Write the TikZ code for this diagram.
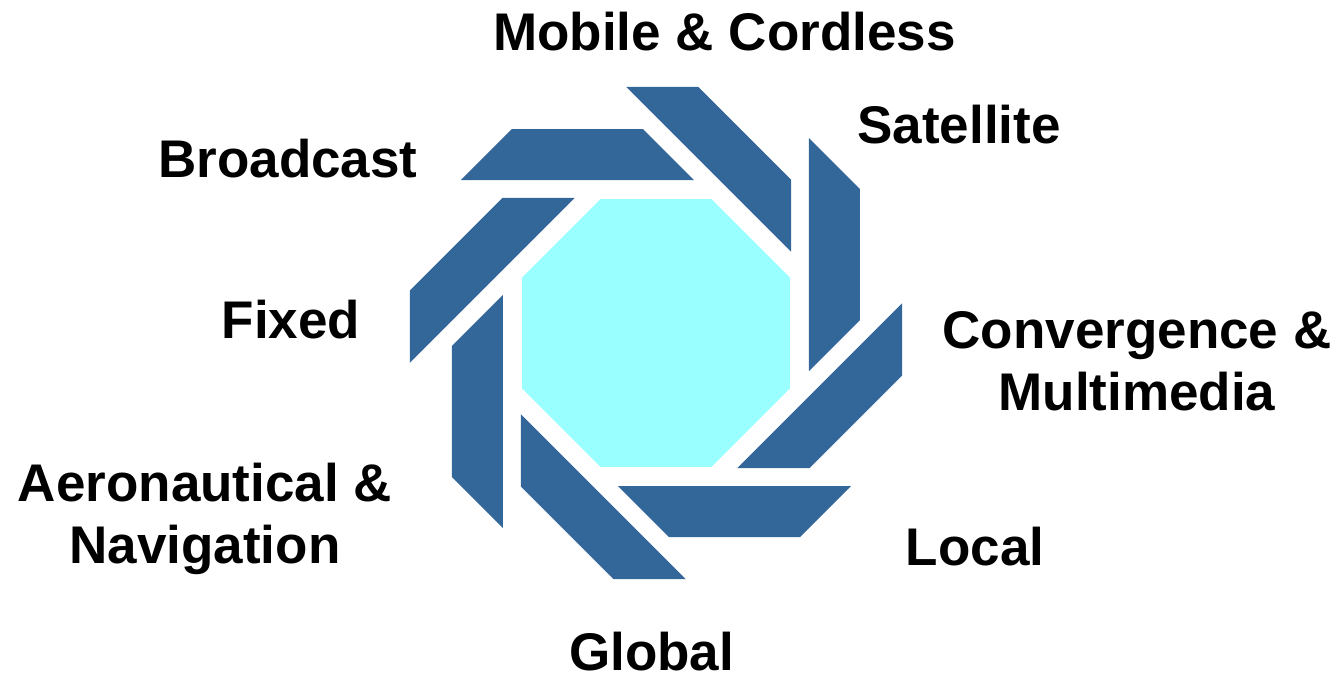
\documentclass[tikz,border=0pt]{standalone}
\usepackage{fontspec}
\setmainfont{Liberation Sans}
\usetikzlibrary{shapes.geometric}
\definecolor{bladeblue}{RGB}{51,102,153}
\definecolor{corecyan}{RGB}{153,255,255}
\tikzset{
    blade/.style={fill=bladeblue, draw=none},
    core/.style={fill=corecyan, draw=none},
    lbl/.style={font=\fontsize{26.5}{31}\selectfont\bfseries, inner sep=0pt, anchor=base, align=center}
}
\begin{document}
\begin{tikzpicture}[x=0.5pt, y=0.5pt]
    \useasboundingbox (-656,-348) rectangle (684,333);

    % Define the centre octagon
    \node[core, regular polygon, regular polygon sides=8, minimum size=145pt, inner sep=0pt] (hub) at (0,0) {};

    % Draw the blades
    \foreach \k in {0,...,7} {
        \fill[blade, rotate=45*\k] (-195,153) -- (38,153) -- (-13,204) -- (-144,204) -- cycle;
    }

    % Define the positions of the labels
    \node[lbl] (mobile) at (68.5,282.3) {Mobile \& Cordless};
    \node[lbl] (sat) at (303,189.7) {Satellite};
    \node[lbl] (bcast) at (-368,155.3) {Broadcast};
    \node[lbl] (fixed) at (-365,-5.3) {Fixed};
    \node[lbl] (conv) at (481,-77) {Convergence \&\\Multimedia};
    \node[lbl] (aero) at (-451,-230) {Aeronautical \&\\Navigation};
    \node[lbl] (local) at (319,-232) {Local};
    \node[lbl] (global) at (-4.3,-337) {Global};
\end{tikzpicture}
\end{document}
